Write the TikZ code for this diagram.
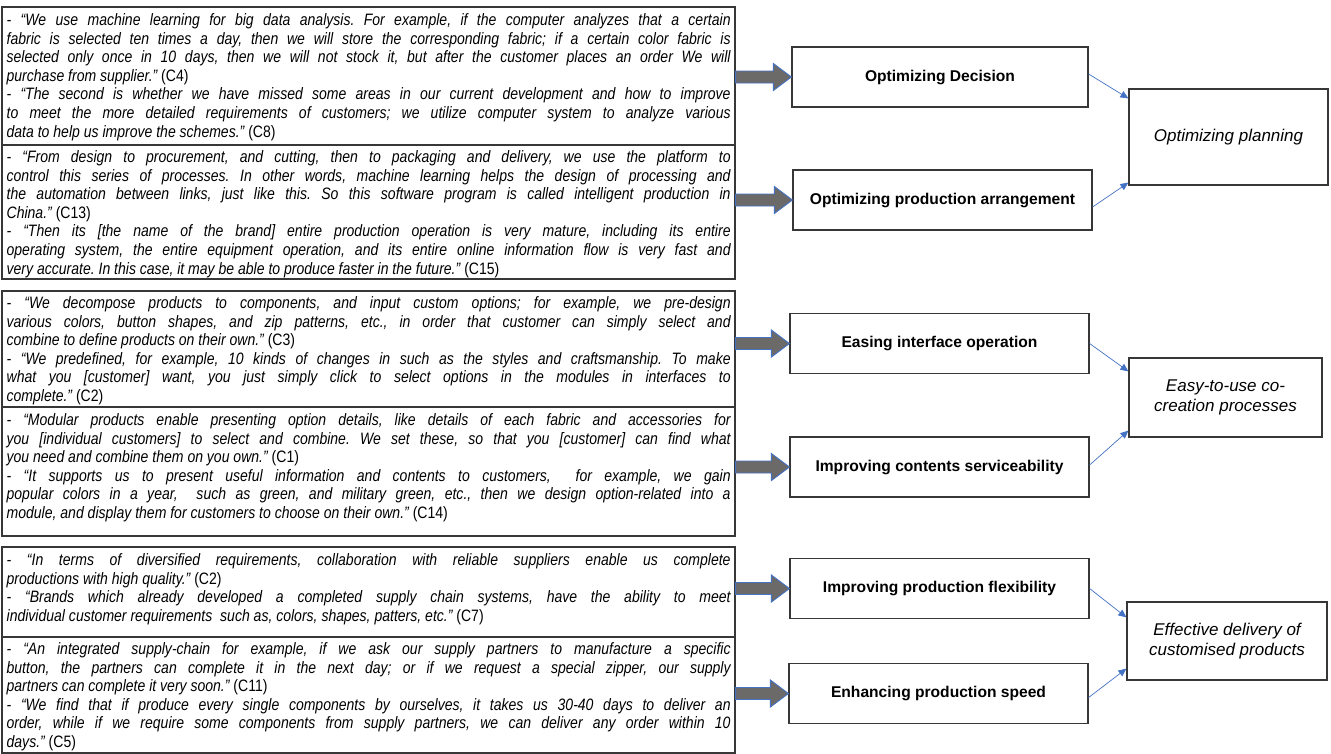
\documentclass[tikz,border=0pt]{standalone}
\usepackage{fontspec}
\setmainfont{Liberation Sans}
\newfontfamily\narrowfont{Liberation Sans}[FakeStretch=0.85]
\usetikzlibrary{arrows.meta,calc}
\frenchspacing
\definecolor{framec}{RGB}{55,55,55}
\definecolor{arrowgray}{RGB}{108,105,105}
\definecolor{arrowblue}{RGB}{68,114,196}
\newcommand\J[1]{\hbox to\hsize{#1}}
\newcommand\E[1]{\hbox{#1}}
\newcommand\Q[1]{\vtop{\hsize=724pt\narrowfont\fontsize{16.5}{18.6}\selectfont\itshape\frenchspacing #1}}
\newcommand\R[1]{{\upshape #1}}
\newcommand\blockarr[2]{%
  \draw[blockar] ($(#1.east |- #2.west)+(0,-6)$) -- ($(#2.west)+(-18,-6)$) -- ($(#2.west)+(-18,-13.5)$) -- (#2.west) -- ($(#2.west)+(-18,13.5)$) -- ($(#2.west)+(-18,6)$) -- ($(#1.east |- #2.west)+(0,6)$) -- cycle;}
\begin{document}
\begin{tikzpicture}[x=1pt,y=-1pt,
  qframe/.style={draw=framec,line width=1.1pt,minimum width=733pt,inner sep=0pt},
  qtext/.style={inner sep=0pt,anchor=base west},
  mbox/.style={draw=framec,line width=1.2pt,minimum height=60pt,inner sep=0pt,font=\fontsize{15.6}{18}\selectfont\bfseries},
  rbox/.style={draw=framec,line width=1.2pt,inner sep=0pt,align=center,font=\fontsize{17}{20.5}\selectfont\itshape},
  blockar/.style={fill=arrowgray,draw=arrowblue,line width=0.9pt,line join=miter},
  thin/.style={draw=arrowblue,line width=0.7pt,-{Triangle[length=8pt,width=7pt]}}]
\useasboundingbox (0,0) rectangle (1331,753);
\fill[white] (0,0) rectangle (1331,753);
% quote boxes
\node[qframe,minimum height=138pt] (A) at (368.5,76) {};
\node[qframe,minimum height=134pt] (B) at (368.5,212) {};
\node[qframe,minimum height=116pt] (C) at (368.5,349) {};
\node[qframe,minimum height=129pt] (D) at (368.5,471.5) {};
\node[qframe,minimum height=90pt] (E) at (368.5,592) {};
\node[qframe,minimum height=116pt] (F) at (368.5,695) {};
\node[qtext] (At) at ([xshift=5pt,yshift=-19pt]A.north west) {\Q{%
\J{- “We use machine learning for big data analysis. For example, if the computer analyzes that a certain}
\J{fabric is selected ten times a day, then we will store the corresponding fabric; if a certain color fabric is}
\J{selected only once in 10 days, then we will not stock it, but after the customer places an order We will}
\E{purchase from supplier.” \R{(C4)}}
\J{- “The second is whether we have missed some areas in our current development and how to improve}
\J{to meet the more detailed requirements of customers; we utilize computer system to analyze various}
\E{data to help us improve the schemes.” \R{(C8)}}}};
\node[qtext] (Bt) at ([xshift=5pt,yshift=-18pt]B.north west) {\Q{%
\J{- “From design to procurement, and cutting, then to packaging and delivery, we use the platform to}
\J{control this series of processes. In other words, machine learning helps the design of processing and}
\J{the automation between links, just like this. So this software program is called intelligent production in}
\E{China.” \R{(C13)}}
\J{- “Then its [the name of the brand] entire production operation is very mature, including its entire}
\J{operating system, the entire equipment operation, and its entire online information flow is very fast and}
\E{very accurate. In this case, it may be able to produce faster in the future.” \R{(C15)}}}};
\node[qtext] (Ct) at ([xshift=5pt,yshift=-18pt]C.north west) {\Q{%
\J{- “We decompose products to components, and input custom options; for example, we pre-design}
\J{various colors, button shapes, and zip patterns, etc., in order that customer can simply select and}
\E{combine to define products on their own.” \R{(C3)}}
\J{- “We predefined, for example, 10 kinds of changes in such as the styles and craftsmanship. To make}
\J{what you [customer] want, you just simply click to select options in the modules in interfaces to}
\E{complete.” \R{(C2)}}}};
\node[qtext] (Dt) at ([xshift=5pt,yshift=-19pt]D.north west) {\Q{%
\J{- “Modular products enable presenting option details, like details of each fabric and accessories for}
\J{you [individual customers] to select and combine. We set these, so that you [customer] can find what}
\E{you need and combine them on you own.” \R{(C1)}}
\J{- “It supports us to present useful information and contents to customers, \ for example, we gain}
\J{popular colors in a year, \ such as green, and military green, etc., then we design option-related into a}
\E{module, and display them for customers to choose on their own.” \R{(C14)}}}};
\node[qtext] (Et) at ([xshift=5pt,yshift=-19pt]E.north west) {\Q{%
\J{- “In terms of diversified requirements, collaboration with reliable suppliers enable us complete}
\E{productions with high quality.” \R{(C2)}}
\J{- “Brands which already developed a completed supply chain systems, have the ability to meet}
\E{individual customer requirements \ such as, colors, shapes, patters, etc.” \R{(C7)}}}};
\node[qtext] (Ft) at ([xshift=5pt,yshift=-18pt]F.north west) {\Q{%
\J{- “An integrated supply-chain for example, if we ask our supply partners to manufacture a specific}
\J{button, the partners can complete it in the next day; or if we request a special zipper, our supply}
\E{partners can complete it very soon.” \R{(C11)}}
\J{- “We find that if produce every single components by ourselves, it takes us 30-40 days to deliver an}
\J{order, while if we require some components from supply partners, we can deliver any order within 10}
\E{days.” \R{(C5)}}}};
% middle boxes
\node[mbox,minimum width=296pt] (dec) at (940,77) {Optimizing Decision};
\node[mbox,minimum width=299pt] (arr) at (942.5,200) {Optimizing production arrangement};
\node[mbox,minimum width=299pt] (eas) at (939.5,343.5) {Easing interface operation};
\node[mbox,minimum width=299pt] (con) at (939.5,467) {Improving contents serviceability};
\node[mbox,minimum width=299pt] (flx) at (939.5,588.5) {Improving production flexibility};
\node[mbox,minimum width=299pt] (spd) at (938.5,693.5) {Enhancing production speed};
% right boxes
\node[rbox,minimum width=199pt,minimum height=96pt] (plan) at (1228.5,137) {Optimizing planning};
\node[rbox,minimum width=193pt,minimum height=79pt] (easy) at (1225.5,397.5) {Easy-to-use co-\\creation processes};
\node[rbox,minimum width=200pt,minimum height=78pt] (eff) at (1227,641) {Effective delivery of\\customised products};
% block arrows
\blockarr{A}{dec}
\blockarr{B}{arr}
\blockarr{C}{eas}
\blockarr{D}{con}
\blockarr{E}{flx}
\blockarr{F}{spd}
% thin arrows
\draw[thin] ([yshift=3pt]dec.east) -- ([yshift=-10pt]plan.north west);
\draw[thin] ([yshift=-7pt]arr.east) -- ([yshift=3pt]plan.south west);
\draw[thin] (eas.east) -- ([yshift=-14pt]easy.north west);
\draw[thin] ([yshift=2pt]con.east) -- ([yshift=7pt]easy.south west);
\draw[thin] (flx.east) -- ([yshift=-16pt]eff.north west);
\draw[thin] ([yshift=-4pt]spd.east) -- ([yshift=12pt]eff.south west);
\end{tikzpicture}
\end{document}
